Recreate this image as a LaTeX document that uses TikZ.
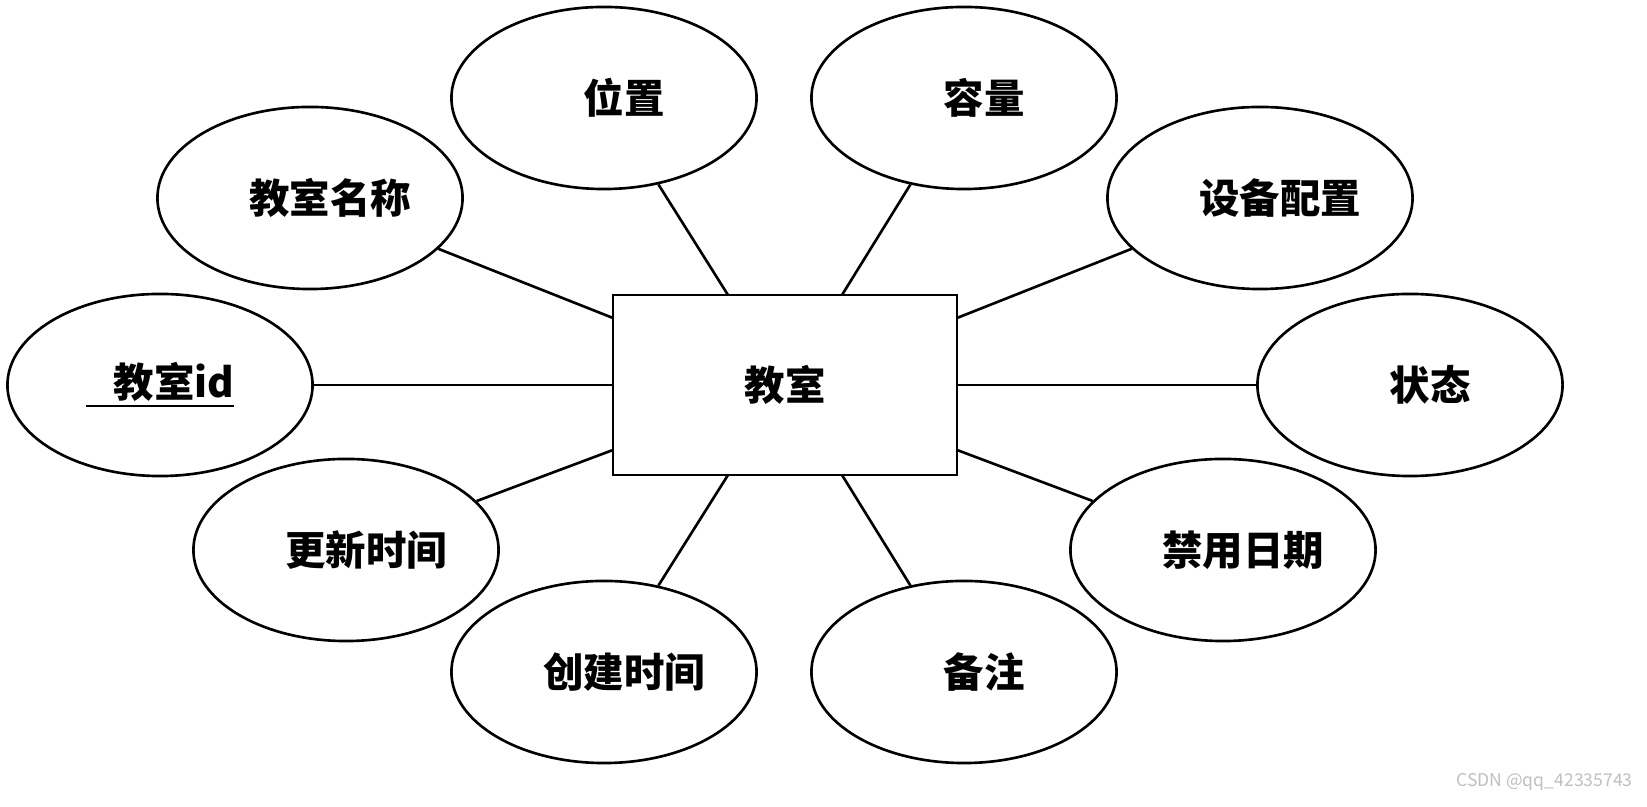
\documentclass[tikz,border=0pt]{standalone}
\usepackage{fontspec}
\setmainfont{Noto Sans CJK SC}
\usetikzlibrary{shapes.geometric}
\begin{document}
\begin{tikzpicture}[x=0.01cm,y=-0.01cm,
  attr/.style={ellipse,draw,line width=0.75pt,minimum width=3.05cm,minimum height=1.82cm,inner sep=0pt,font=\fontsize{11.5}{13}\selectfont\bfseries},
  shifted/.style={execute at begin node={\hspace*{0.4cm}}},
  ent/.style={rectangle,draw,line width=0.75pt,minimum width=3.44cm,minimum height=1.8cm,font=\fontsize{11.5}{13}\selectfont\bfseries},
  conn/.style={line width=0.75pt}]
\useasboundingbox (0,0) rectangle (1647,807);
\node[ent] (e) at (785,385) {教室};
\node[attr,shifted] (a1) at (604,98) {位置};
\node[attr,shifted] (a2) at (964,98) {容量};
\node[attr,shifted] (a3) at (310,198) {教室名称};
\node[attr,shifted] (a4) at (1260,198) {设备配置};
\node[attr] (a5) at (160,385) {\underline{\ \ \ 教室id}};
\node[attr,shifted] (a6) at (1410,385) {状态};
\node[attr,shifted] (a7) at (346,550) {更新时间};
\node[attr,shifted] (a8) at (1223,550) {禁用日期};
\node[attr,shifted] (a9) at (604,672) {创建时间};
\node[attr,shifted] (a10) at (964,672) {备注};
\coordinate (c1) at (728,295);
\coordinate (c2) at (842,295);
\coordinate (c3) at (613,318);
\coordinate (c4) at (957,318);
\coordinate (c5) at (613,385);
\coordinate (c6) at (957,385);
\coordinate (c7) at (613,450);
\coordinate (c8) at (957,450);
\coordinate (c9) at (728,475);
\coordinate (c10) at (842,475);
\foreach \i in {1,...,10} {\draw[conn] (c\i) -- (a\i);}
\node[text=gray!50,font=\fontsize{5}{6}\selectfont,anchor=south east] (wm) at (1645,803) {CSDN @qq\_42335743};
\end{tikzpicture}
\end{document}
